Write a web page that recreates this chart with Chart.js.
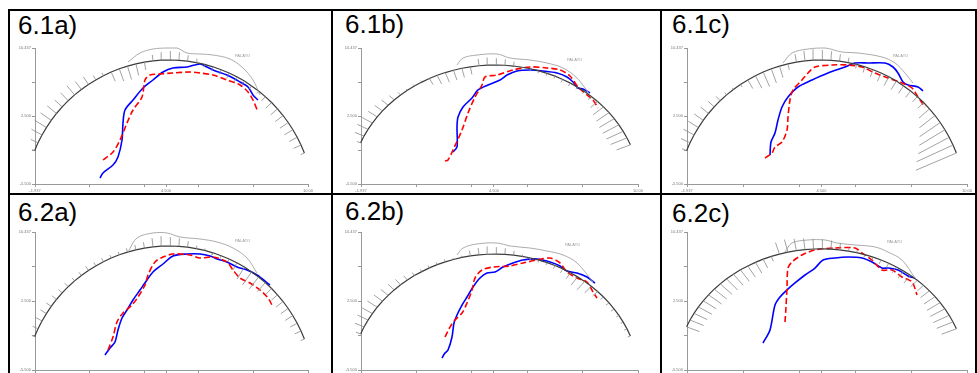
<!DOCTYPE html>
<html>
<head>
<meta charset="utf-8">
<script src="https://cdn.jsdelivr.net/npm/chart.js@4.4.1/dist/chart.umd.min.js"></script>
<style>
body { margin: 0; background: #fff; }
#fig { position: relative; width: 977px; height: 373px; overflow: hidden; background: #fff; font-family: "Liberation Sans", Arial, sans-serif; }
.ln { position: absolute; background: #000; }
.lab { position: absolute; font-size: 26px; line-height: 26px; color: #000; white-space: nowrap; }
canvas { position: absolute; }
</style>
</head>
<body>
<div id="fig">
  <div class="ln" style="left:8px;top:9px;width:969px;height:2px"></div>
  <div class="ln" style="left:8px;top:193px;width:969px;height:2px"></div>
  <div class="ln" style="left:8px;top:9px;width:2px;height:364px"></div>
  <div class="ln" style="left:331px;top:9px;width:2px;height:364px"></div>
  <div class="ln" style="left:660px;top:9px;width:2px;height:364px"></div>
  <div class="ln" style="left:975px;top:9px;width:2px;height:364px"></div>
</div>
<script>
// panel titles
const TITLES = ['6.1a)', '6.1b)', '6.1c)', '6.2a)', '6.2b)', '6.2c)'];

// axis tick labels (tiny in the original)
const X_TICK_LABELS = ['-1.937', '4.500', '10.00'];
const Y_TICK_LABELS = ['-5.500', '2.500', '10.437'];

// axis ranges per panel
const XMAX = [273, 277, 280, 273, 277, 280];
const YMIN = [0, -14.6, 0, 0, -7.7, -16.9];
const YMAX = [136, 143.8, 136, 138, 149.1, 143.6];

// reference arc (same in every panel)
const ARC_X = [-0.4, 3.0, 7.0, 11.4, 16.2, 21.5, 27.2, 33.2, 39.6, 46.4, 53.4, 60.8, 68.4, 76.2, 84.3, 92.5, 100.9, 109.4, 118.0, 126.6, 135.3,
  143.9, 152.5, 161.1, 169.6, 177.9, 186.1, 194.1, 201.8, 209.4, 216.6, 223.6, 230.3, 236.6, 242.5, 248.1, 253.2, 257.9, 262.2, 266.0, 269.4];
const ARC_Y = [33.3, 41.2, 49.0, 56.4, 63.6, 70.5, 77.1, 83.3, 89.1, 94.5, 99.6, 104.1, 108.3, 112.0, 115.2, 117.9, 120.2, 121.9, 123.1, 123.8, 124.0,
  123.7, 122.8, 121.4, 119.6, 117.2, 114.3, 111.0, 107.2, 102.9, 98.1, 93.0, 87.4, 81.5, 75.2, 68.5, 61.5, 54.3, 46.7, 39.0, 31.0];

// hatch length at each arc point (+ outward, - inward)
const HATCH = [
  [3, 8, 12, 14, 13, 12, 10, 11, 12, 10, 9, 5, 3, -10, -13, -14, -12, -8, 6, 8, 9, 8, 6, 4, -3, -4, -5, -6, -6, -5, -4, -3, -6, -8, -9, -10, -10, -10, -9, -8, -4],
  [4, 10, 12, 12, 11, 10, 9, 7, 4, 2, 2, 2, -8, -11, -12, -12, -11, -9, 8, 9, 8, 7, 5, -2, -3, -3, -3, -3, -4, -4, -3, -3, -5, -10, -14, -16, -18, -19, -19, -18, -15],
  [5, 10, 12, 12, 11, 10, 8, 6, 3, 2, -3, -10, -14, -16, -15, -12, -6, 8, 10, 11, 10, 9, 7, 5, -4, -6, -8, -9, -10, -10, -9, -8, -7, -8, -14, -20, -25, -30, -35, -40, -44],
  [3, 6, 7, 7, 6, 6, 5, 5, 4, 4, 5, 4, 4, 3, 3, 4, 5, 6, 9, 10, 9, 8, 6, 3, 2, -2, -3, -3, -8, -14, -16, -15, -12, -8, -8, -9, -9, -9, -8, -7, -4],
  [5, 10, 12, 12, 12, 11, 10, 9, 8, 6, 4, 3, 3, 3, 3, 2, 2, 6, 8, 9, 8, 7, 5, 2, -2, -3, -3, -4, -5, -8, -11, -12, -10, -7, -4, -4, -4, -3, -3, -3, -3],
  [-14, -15, -15, -16, -16, -17, -17, -17, -17, -16, -16, -15, -14, -11, -6, 14, 15, 14, 13, 12, 11, 10, 8, 4, 3, -3, -4, -5, -6, -8, -10, -11, -10, -9, -12, -14, -16, -17, -18, -18, -16]
];

// gray outline (palato)
const GRAY_X = [
  [93, 105, 118, 132, 142, 152, 165, 178, 195, 208, 218, 225],
  [96, 102, 116, 136, 149, 169, 186, 202, 216, 229],
  [96, 105, 121, 138, 155, 171, 195, 208, 218, 226],
  [93, 102, 118, 132, 145, 165, 182, 198, 212, 222],
  [96, 102, 116, 136, 149, 169, 186, 202, 216, 232],
  [98, 105, 121, 138, 150, 168, 188, 201, 215, 228]
];
const GRAY_Y = [
  [122, 131, 135, 136, 136, 131, 130, 129, 125, 116, 104, 89],
  [124.0, 132.1, 135.6, 136.8, 132.1, 129.8, 126.3, 120.5, 108.8, 89.1],
  [121, 131, 135, 136, 132, 131, 127, 121, 111, 101],
  [118, 132, 137, 137, 133, 131, 128, 122, 112, 97],
  [123.0, 130.9, 135.5, 136.6, 133.2, 130.9, 127.5, 123.0, 113.9, 92.3],
  [120.3, 130.8, 134.3, 134.3, 130.8, 128.5, 126.2, 120.3, 111.0, 90.1]
];
const PALATO_X = [200, 206, 206, 200, 204, 200];
const PALATO_Y = [127, 128.6, 127, 128, 133.2, 130.8];

// blue solid line
const BLUE_X = [
  [65, 68, 78, 83, 87, 88, 90, 98, 108, 118, 128, 138, 152, 165, 172, 178, 192, 205, 213, 218, 223],
  [92, 96, 96, 97, 102, 111, 117, 127, 139, 146, 156, 169, 182, 196, 206, 212, 217, 222, 229],
  [83, 84, 88, 91, 95, 101, 111, 125, 141, 158, 168, 181, 198, 206, 211, 216, 221, 231, 236],
  [70, 75, 80, 83, 87, 92, 98, 105, 112, 118, 128, 138, 152, 165, 175, 182, 192, 202, 212, 222, 235],
  [81, 84, 87, 91, 93, 96, 101, 106, 112, 119, 126, 134, 142, 152, 162, 176, 189, 199, 206, 216, 226, 234],
  [76, 83, 88, 93, 100, 108, 118, 128, 136, 148, 161, 175, 185, 195, 201, 211, 221, 228]
];
const BLUE_Y = [
  [6, 11, 19, 27, 44, 61, 74, 84, 96, 104, 112, 116, 117, 120, 117, 114, 109, 102, 97, 89, 84],
  [22.7, 28.5, 51.8, 63.4, 75.1, 85.6, 94.9, 100.7, 106.5, 112.3, 117.0, 118.2, 117.0, 114.7, 110.0, 104.2, 97.2, 96.1, 91.4],
  [29, 42, 51, 64, 77, 87, 97, 104, 111, 117, 121, 121, 121, 117, 111, 102, 99, 97, 93],
  [15, 22, 28, 40, 52, 60, 70, 80, 90, 98, 106, 114, 116, 116, 114, 111, 108, 103, 100, 95, 85],
  [5.9, 11.6, 15.0, 29.8, 45.7, 54.8, 66.1, 75.2, 86.6, 96.8, 102.5, 103.6, 109.3, 113.9, 117.3, 118.4, 115.0, 110.5, 104.8, 102.5, 98.0, 91.1],
  [14.5, 29.7, 58.7, 68.0, 76.2, 84.3, 93.6, 101.7, 111.0, 113.4, 114.5, 113.4, 108.7, 101.7, 101.7, 99.4, 92.4, 90.1]
];

// red dashed line
const RED_X = [
  [68, 78, 85, 92, 98, 107, 110, 115, 125, 138, 155, 165, 178, 192, 205, 213, 218, 223],
  [84, 87, 92, 101, 107, 114, 121, 124, 136, 152, 169, 186, 199, 209, 217, 226, 232, 237],
  [78, 85, 88, 95, 100, 101, 103, 106, 115, 121, 128, 145, 161, 175, 188, 201, 215, 225, 231, 238],
  [73, 78, 82, 88, 97, 103, 110, 113, 120, 128, 138, 155, 165, 178, 192, 198, 205, 215, 225, 233, 237],
  [84, 89, 94, 101, 106, 111, 114, 121, 132, 149, 162, 176, 189, 199, 206, 216, 226, 232, 236],
  [98, 99, 100, 101, 105, 115, 128, 148, 168, 175, 185, 195, 205, 215, 225, 230]
];
const RED_Y = [
  [24, 32, 44, 61, 74, 87, 104, 109, 110, 111, 112, 111, 109, 104, 99, 92, 84, 72],
  [12.2, 13.4, 25.0, 48.3, 68.1, 86.7, 100.7, 110.0, 112.3, 118.2, 121.7, 120.5, 118.2, 111.2, 98.4, 89.1, 83.2, 73.9],
  [26, 31, 37, 42, 54, 67, 84, 94, 104, 111, 117, 119, 119, 117, 111, 106, 101, 96, 87, 77],
  [20, 33, 48, 57, 65, 73, 85, 95, 108, 113, 116, 115, 112, 113, 108, 100, 92, 87, 80, 72, 65],
  [29.8, 41.1, 49.1, 57.0, 68.4, 83.2, 96.8, 105.9, 109.3, 110.5, 113.9, 117.3, 119.5, 113.9, 103.6, 96.8, 92.3, 80.9, 74.1],
  [39.0, 56.4, 79.7, 101.7, 108.7, 116.9, 122.7, 125.0, 125.0, 119.2, 111.0, 99.4, 99.4, 91.3, 85.5, 70.3]
];

// page placement of each panel
const AXIS_LEFT = [35, 361, 687, 35, 361, 687];
const AXIS_TOP = [48, 48, 48, 232, 232, 232];
const BOX_H = [136, 136, 136, 138, 138, 138];
const TITLE_LEFT = [18, 345, 672, 18, 345, 672];
const TITLE_TOP = [12, 11, 11, 199, 198, 200];

const fig = document.getElementById('fig');

function pts(xs, ys) {
    return xs.map((x, i) => ({x: x, y: ys[i]}));
}

function hatchPts(lengths) {
    const out = [];
    for (let k = 0; k < ARC_X.length; k++) {
        const a = Math.max(k - 1, 0), b = Math.min(k + 1, ARC_X.length - 1);
        let tx = ARC_X[b] - ARC_X[a], ty = ARC_Y[b] - ARC_Y[a];
        const n = Math.hypot(tx, ty);
        tx /= n; ty /= n;
        const L = lengths[k];
        out.push({x: ARC_X[k], y: ARC_Y[k]});
        out.push({x: ARC_X[k] - ty * L, y: ARC_Y[k] + tx * L});
        out.push({x: null, y: null});
    }
    return out;
}

for (let p = 0; p < 6; p++) {
    const t = document.createElement('div');
    t.className = 'lab';
    t.style.left = TITLE_LEFT[p] + 'px';
    t.style.top = TITLE_TOP[p] + 'px';
    t.textContent = TITLES[p];
    fig.appendChild(t);

    const cv = document.createElement('canvas');
    const w = XMAX[p] + 30, h = BOX_H[p] + 14;
    cv.width = w; cv.height = h;
    cv.style.width = w + 'px'; cv.style.height = h + 'px';
    cv.style.left = (AXIS_LEFT[p] - 20) + 'px';
    cv.style.top = (AXIS_TOP[p] - 6) + 'px';
    fig.appendChild(cv);

    const line = {showLine: true, pointRadius: 0, fill: false, clip: false, spanGaps: false};
    const xTicks = [0, 0.2, 0.4, 0.48, 0.6, 0.8, 1].map(f => f * XMAX[p]);
    const yTicks = [0, 0.25, 0.5, 0.75, 1].map(f => YMIN[p] + f * (YMAX[p] - YMIN[p]));

    const palato = {
        id: 'palato' + p,
        afterDatasetsDraw(chart) {
            const c = chart.ctx;
            c.save();
            c.font = '4px "Liberation Sans", Arial';
            c.fillStyle = '#999';
            c.fillText('PALATO', chart.scales.x.getPixelForValue(PALATO_X[p]), chart.scales.y.getPixelForValue(PALATO_Y[p]));
            c.restore();
        }
    };

    new Chart(cv.getContext('2d'), {
        type: 'scatter',
        data: {
            datasets: [
                Object.assign({data: hatchPts(HATCH[p]), borderColor: '#8a8a8a', borderWidth: 0.8}, line),
                Object.assign({data: pts(GRAY_X[p], GRAY_Y[p]), borderColor: '#a3a3a3', borderWidth: 0.9, tension: 0.35}, line),
                Object.assign({data: pts(ARC_X, ARC_Y), borderColor: '#3c3c3c', borderWidth: 1.2}, line),
                Object.assign({data: pts(RED_X[p], RED_Y[p]), borderColor: '#ff0000', borderWidth: 1.6, borderDash: [6, 3], tension: 0.3}, line),
                Object.assign({data: pts(BLUE_X[p], BLUE_Y[p]), borderColor: '#0000ff', borderWidth: 1.6, tension: 0.3}, line)
            ]
        },
        options: {
            responsive: false,
            animation: false,
            devicePixelRatio: 1,
            events: [],
            layout: {padding: {left: 0, top: 6, right: 10, bottom: 0}},
            plugins: {legend: {display: false}, tooltip: {enabled: false}},
            scales: {
                x: {
                    type: 'linear', min: 0, max: XMAX[p],
                    afterBuildTicks: s => { s.ticks = xTicks.map(v => ({value: v})); },
                    afterFit: s => { s.height = 8; },
                    grid: {drawOnChartArea: false, color: '#999', tickLength: 3},
                    border: {color: '#999', width: 1},
                    ticks: {
                        font: {size: 4}, color: '#777', padding: 1, maxRotation: 0, autoSkip: false,
                        callback: (v, i) => i === 0 ? X_TICK_LABELS[0] : i === 3 ? X_TICK_LABELS[1] : i === 6 ? X_TICK_LABELS[2] : ''
                    }
                },
                y: {
                    type: 'linear', min: YMIN[p], max: YMAX[p],
                    afterBuildTicks: s => { s.ticks = yTicks.map(v => ({value: v})); },
                    afterFit: s => { s.width = 20; },
                    grid: {drawOnChartArea: false, color: '#999', tickLength: 3},
                    border: {color: '#999', width: 1},
                    ticks: {
                        font: {size: 4}, color: '#777', padding: 1, autoSkip: false,
                        callback: (v, i) => i === 0 ? Y_TICK_LABELS[0] : i === 2 ? Y_TICK_LABELS[1] : i === 4 ? Y_TICK_LABELS[2] : ''
                    }
                }
            }
        },
        plugins: [palato]
    });
}
</script>
</body>
</html>
